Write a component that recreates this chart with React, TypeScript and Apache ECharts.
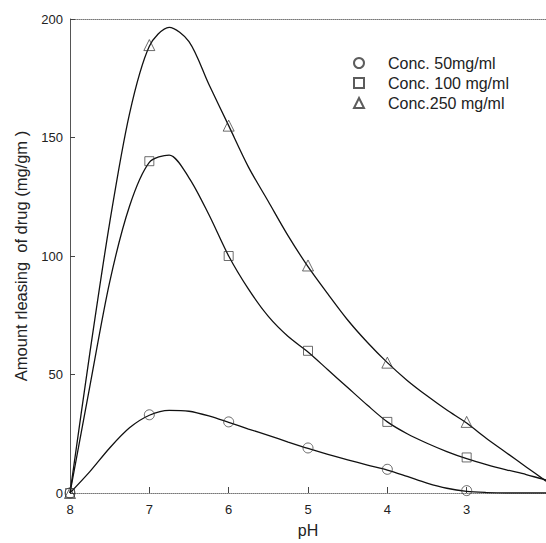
import React, { useEffect, useRef } from "react";
import * as echarts from "echarts";

// Measured points (pH, amount released)
const MARKER_PH = [8, 7, 6, 5, 4, 3];
const CONC_50 = [0, 33, 30, 19, 10, 1];
const CONC_100 = [0, 140, 100, 60, 30, 15];
const CONC_250 = [0, 189, 155, 96, 55, 30];

// Fitted curves
const CURVE_PH = [8, 7.75, 7.5, 7.25, 7, 6.75, 6.5, 6.25, 6, 5.75, 5.5, 5.25, 5, 4.75, 4.5, 4.25, 4, 3.75, 3.5, 3.25, 3, 2.75, 2.5, 2.25, 2.0];
const FIT_50 = [0, 9, 19, 27.5, 32.8, 34.9, 34.5, 32.5, 29.8, 27, 24.3, 21.5, 18.8, 16.3, 14, 11.8, 9.7, 7, 4.2, 2, 0.7, 0.2, 0, 0, 0];
const FIT_100 = [0, 45, 89, 121, 139.5, 142.6, 133, 117.5, 100, 86, 74.5, 66, 59.5, 52, 44.5, 37, 30, 25, 21, 17.5, 14.5, 12, 9.8, 7.8, 5.5];
const FIT_250 = [0, 59, 114, 160, 188.5, 196.5, 190.5, 172.5, 155, 137.5, 123, 108.5, 95.5, 84, 73, 63.5, 55, 47.5, 41, 35, 29.5, 23, 17, 11, 5];

const NAMES = ["Conc. 50mg/ml", "Conc. 100 mg/ml", "Conc.250 mg/ml"];
const SYMBOLS = ["circle", "rect", "triangle"];
const SYMBOL_SIZES = [10, 9, 11];

const FONT = "Liberation Sans, Arial, sans-serif";

export default function App() {
  const ref = useRef<HTMLDivElement>(null);
  useEffect(() => {
    if (!ref.current) return;
    const chart = echarts.init(ref.current, null, { renderer: "svg" });
    const markers = [CONC_50, CONC_100, CONC_250];
    const fits = [FIT_50, FIT_100, FIT_250];
    const lineSeries = fits.map((f, i) => ({
      type: "line",
      name: NAMES[i] + " fit",
      data: CURVE_PH.map((p, j) => [p, f[j]]),
      smooth: 0.3,
      showSymbol: false,
      silent: true,
      lineStyle: { color: "#111", width: 1.3 },
      z: 2,
    }));
    const scatterSeries = markers.map((m, i) => ({
      type: "scatter",
      name: NAMES[i],
      data: MARKER_PH.map((p, j) => [p, m[j]]),
      symbol: SYMBOLS[i],
      symbolSize: SYMBOL_SIZES[i],
      itemStyle: { color: "rgba(255,255,255,0)", borderColor: "#333", borderWidth: 0.9 },
      z: 3,
    }));
    chart.setOption({
      animation: false,
      backgroundColor: "#fff",
      grid: { left: 70, right: -6, top: 19, bottom: 43 },
      legend: {
        orient: "vertical",
        left: 353,
        top: 55,
        padding: 0,
        itemWidth: 10,
        itemHeight: 10,
        itemGap: 4,
        textStyle: { fontSize: 16, fontFamily: FONT, color: "#222", lineHeight: 16, padding: [0, 0, 0, 19] },
        data: NAMES.map((n, i) => ({ name: n, icon: SYMBOLS[i] })),
      },
      xAxis: [
        {
          type: "value",
          inverse: true,
          min: 2,
          max: 8,
          interval: 1,
          name: "pH",
          nameLocation: "middle",
          nameGap: 29,
          nameTextStyle: { fontSize: 16, fontFamily: FONT, color: "#222" },
          axisLine: { show: true, lineStyle: { color: "#777", type: "dotted", width: 1 } },
          axisTick: { show: true, inside: true, length: 6, lineStyle: { color: "#444" } },
          axisLabel: { fontSize: 13, fontFamily: FONT, color: "#222", margin: 10, showMaxLabel: true, showMinLabel: false },
          splitLine: { show: false },
        },
        {
          type: "value",
          position: "top",
          inverse: true,
          min: 2,
          max: 8,
          interval: 1,
          axisLine: { show: true, lineStyle: { color: "#777", type: "dotted", width: 1 } },
          axisTick: { show: false },
          axisLabel: { show: false },
          splitLine: { show: false },
        },
      ],
      yAxis: {
        type: "value",
        min: 0,
        max: 200,
        interval: 50,
        name: "Amount rleasing  of drug (mg/gm )",
        nameLocation: "middle",
        nameGap: 41,
        nameTextStyle: { fontSize: 16.5, fontFamily: FONT, color: "#222" },
        axisLine: { show: true, lineStyle: { color: "#555", width: 1 } },
        axisTick: { show: true, inside: true, length: 5, lineStyle: { color: "#444" } },
        axisLabel: { fontSize: 13, fontFamily: FONT, color: "#222", margin: 7 },
        splitLine: { show: false },
      },
      series: [...lineSeries, ...scatterSeries],
    });
    return () => chart.dispose();
  }, []);
  return (
    <div
      ref={ref}
      style={{ position: "absolute", left: 0, top: 0, width: 546, height: 543 }}
    />
  );
}
